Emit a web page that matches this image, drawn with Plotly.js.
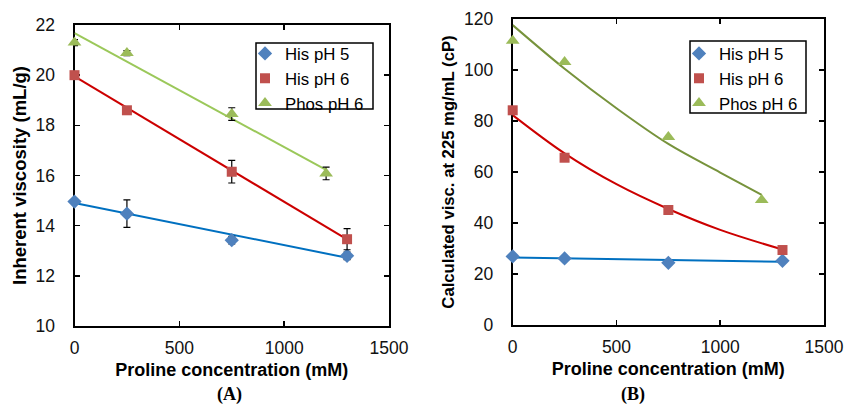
<!DOCTYPE html>
<html><head><meta charset="utf-8">
<script src="https://cdn.plot.ly/plotly-3.0.1.min.js"></script>
<style>html,body{margin:0;padding:0;background:#fff}</style>
</head><body>
<div id="chart" style="width:856px;height:410px"></div>
<script>
// ---- Panel A: inherent viscosity (mL/g) ----
const xA_his5 = [0, 250, 750, 1300];
const yA_his5 = [14.96, 14.48, 13.42, 12.8];
const eA_his5 = [0.05, 0.55, 0.15, 0.15];
const xA_his6 = [0, 250, 750, 1300];
const yA_his6 = [20.0, 18.6, 16.15, 13.46];
const eA_his6 = [0.05, 0.15, 0.45, 0.42];
const xA_phos = [0, 250, 750, 1200];
const yA_phos = [21.3, 20.88, 18.45, 16.08];
const eA_phos = [0.12, 0.1, 0.25, 0.25];
// trendlines (endpoints)
const xA_fit_his5 = [0, 1300];
const yA_fit_his5 = [14.9, 12.72];
const xA_fit_his6 = [0, 1300];
const yA_fit_his6 = [19.95, 13.45];
const xA_fit_phos = [0, 1200];
const yA_fit_phos = [21.68, 16.22];

// ---- Panel B: calculated viscosity at 225 mg/mL (cP) ----
const xB_his5 = [0, 250, 750, 1300];
const yB_his5 = [26.9, 26.1, 24.4, 25.2];
const xB_his6 = [0, 250, 750, 1300];
const yB_his6 = [84.2, 65.6, 45.1, 29.4];
const xB_phos = [0, 250, 750, 1200];
const yB_phos = [111.5, 103.1, 73.7, 49.0];
// trend curves
const xB_fit_his5 = [0, 1300];
const yB_fit_his5 = [26.5, 24.8];
const xB_fit_his6 = [0, 250, 500, 750, 1000, 1300];
const yB_fit_his6 = [82.3, 67.3, 55.2, 45.5, 37.3, 29.6];
const xB_fit_phos = [0, 250, 500, 750, 1000, 1200];
const yB_fit_phos = [117.6, 100.5, 85.0, 71.0, 59.8, 51.0];

const names = ['His pH 5', 'His pH 6', 'Phos pH 6'];
const mCol = ['#4F81BD', '#C0504D', '#9BBB59'];
const mSym = ['diamond', 'square', 'triangle-up'];
const mSize = [11, 10, 12];
const lColA = ['#0070C0', '#CC0000', '#9BC85A'];
const lColB = ['#0070C0', '#CC0000', '#77933C'];

const traces = [];
const A = [[xA_his5, yA_his5, eA_his5], [xA_his6, yA_his6, eA_his6], [xA_phos, yA_phos, eA_phos]];
const Afit = [[xA_fit_his5, yA_fit_his5], [xA_fit_his6, yA_fit_his6], [xA_fit_phos, yA_fit_phos]];
const B = [[xB_his5, yB_his5], [xB_his6, yB_his6], [xB_phos, yB_phos]];
const Bfit = [[xB_fit_his5, yB_fit_his5], [xB_fit_his6, yB_fit_his6], [xB_fit_phos, yB_fit_phos]];

for (let i = 0; i < 3; i++) {
  traces.push({x: Afit[i][0], y: Afit[i][1], mode: 'lines', type: 'scatter', cliponaxis: false,
    line: {color: lColA[i], width: 2}, showlegend: false, xaxis: 'x', yaxis: 'y', hoverinfo: 'skip'});
}
for (let i = 0; i < 3; i++) {
  traces.push({x: A[i][0], y: A[i][1], name: names[i], mode: 'markers', type: 'scatter', cliponaxis: false,
    marker: {color: mCol[i], symbol: mSym[i], size: mSize[i]},
    error_y: {type: 'data', array: A[i][2], visible: true, color: '#000', thickness: 1.2, width: 3.5},
    xaxis: 'x', yaxis: 'y', legend: 'legend'});
}
for (let i = 0; i < 3; i++) {
  traces.push({x: Bfit[i][0], y: Bfit[i][1], mode: 'lines', type: 'scatter', cliponaxis: false,
    line: {color: lColB[i], width: 2, shape: 'spline', smoothing: 1}, showlegend: false, xaxis: 'x2', yaxis: 'y2', hoverinfo: 'skip'});
}
for (let i = 0; i < 3; i++) {
  traces.push({x: B[i][0], y: B[i][1], name: names[i], mode: 'markers', type: 'scatter', cliponaxis: false,
    marker: {color: mCol[i], symbol: mSym[i], size: mSize[i]},
    xaxis: 'x2', yaxis: 'y2', legend: 'legend2'});
}

const font = 'Arial, "Liberation Sans", sans-serif';
const axBase = {
  showline: true, mirror: 'ticks', linecolor: '#000', linewidth: 2,
  ticks: 'inside', ticklen: 5, tickwidth: 1.5, tickcolor: '#000',
  showgrid: false, zeroline: false, layer: 'below traces',
  tickfont: {family: font, size: 17.5, color: '#111'}
};
const xTitle = {text: 'Proline concentration (mM)', font: {family: font, size: 18, color: '#000', weight: 'bold'}, standoff: 6};

const legBase = {xanchor: 'left', yanchor: 'top', bgcolor: 'rgba(0,0,0,0)',
  borderwidth: 0, font: {family: font, size: 16.8, color: '#000'}, tracegroupgap: 0, itemwidth: 30};

const layout = {
  width: 856, height: 410,
  margin: {l: 0, r: 0, t: 0, b: 0},
  paper_bgcolor: '#fff', plot_bgcolor: '#fff',
  showlegend: true,
  xaxis: Object.assign({}, axBase, {domain: [74.5/856, 389/856], range: [0, 1500], tickvals: [0, 500, 1000, 1500], anchor: 'y', ticklabelstandoff: 5, title: xTitle}),
  yaxis: Object.assign({}, axBase, {domain: [1 - 326/410, 1 - 25/410], range: [10, 22], dtick: 2, anchor: 'x', ticklabelstandoff: 14,
    title: {text: 'Inherent viscosity (mL/g)', font: {family: font, size: 18.5, color: '#000', weight: 'bold'}, standoff: 4}}),
  xaxis2: Object.assign({}, axBase, {domain: [512.7/856, 824/856], range: [0, 1500], tickvals: [0, 500, 1000, 1500], anchor: 'y2', ticklabelstandoff: 5, title: xTitle}),
  yaxis2: Object.assign({}, axBase, {domain: [1 - 325/410, 1 - 19/410], range: [0, 120], dtick: 20, anchor: 'x2', ticklabelstandoff: 14,
    title: {text: 'Calculated visc. at 225 mg/mL (cP)', font: {family: font, size: 16.7, color: '#000', weight: 'bold'}, standoff: 5}}),
  legend: Object.assign({}, legBase, {x: 245/856, y: 1 - 36/410}),
  legend2: Object.assign({}, legBase, {x: 679/856, y: 1 - 36/410}),
  shapes: [
    {type: 'rect', xref: 'paper', yref: 'paper', x0: 256/856, x1: 373/856, y0: 1 - 109/410, y1: 1 - 43/410,
     line: {color: '#000', width: 1.5}, fillcolor: '#fff', layer: 'above'},
    {type: 'rect', xref: 'paper', yref: 'paper', x0: 690/856, x1: 806/856, y0: 1 - 113/410, y1: 1 - 41/410,
     line: {color: '#000', width: 1.5}, fillcolor: '#fff', layer: 'above'}
  ],
  annotations: [
    {text: '(A)', x: 215/856, y: 1 - 394/410, xref: 'paper', yref: 'paper', showarrow: false, yanchor: 'middle',
     font: {family: '"Liberation Serif", "Times New Roman", serif', size: 18, color: '#000', weight: 'bold'}},
    {text: '(B)', x: 647/856, y: 1 - 394/410, xref: 'paper', yref: 'paper', showarrow: false, yanchor: 'middle',
     font: {family: '"Liberation Serif", "Times New Roman", serif', size: 18, color: '#000', weight: 'bold'}}
  ]
};

Plotly.newPlot('chart', traces, layout, {staticPlot: true, displayModeBar: false});
</script>
</body></html>
